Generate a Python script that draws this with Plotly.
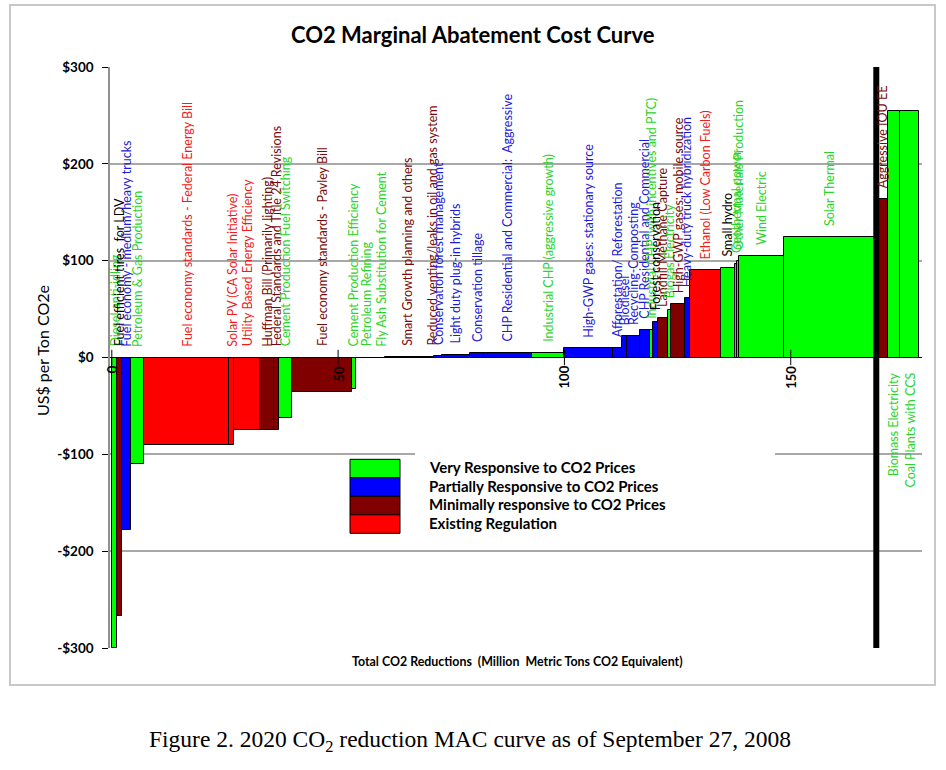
import numpy as np
import plotly.graph_objects as go

# ---------------- data ----------------
names = [
    "Diesel anti-idling", "Fuel efficient tires  for LDV", "Fuel economy - medium/heavy trucks",
    "Petroleum & Gas Production", "Fuel economy standards - Federal Energy Bill",
    "Solar PV (CA Solar Initiative)", "Utility Based Energy Efficiency",
    "Huffman Bill (Primarily lighting)", "Federal Standards and Title 24 Revisions",
    "Cement Production Fuel Switching", "Fuel economy standards - Pavley Bill",
    "Cement Production Efficiency", "Petroleum Refining", "Fly Ash Substitution for Cement",
    "Smart Growth planning and others", "Reduced venting/leaks in oil and gas system",
    "Conservation forest management", "Light duty plug-in hybrids", "Conservation tillage",
    "CHP Residential and Commercial:  Aggressive", "Industrial CHP (aggressive growth)",
    "High-GWP gases: stationary source", "Afforestation/ Reforestation", "Biodiesel",
    "Recycling-Composting", "CHP Residential and Commercial",
    "Industrial CHP (with incentives and PTC)", "Forest conservation",
    "Landfill Methane Capture", "Biogas Electricity", "High-GWP gases: mobile source",
    "Heavy-duty truck hybridization", "Ethanol (Low Carbon Fuels)", "Small hydro",
    "Geothermal power", "Other Materials Production", "Wind Electric", "Solar Thermal",
    "Aggressive IOU EE", "Biomass Electricity", "Coal Plants with CCS",
]
widths = [1.2, 1.0, 2.0, 2.9, 18.9, 1.0, 5.8, 3.1, 1.1, 2.9, 13.1, 1.0, 4.4, 2.0, 9.9,
          0.9, 1.7, 6.2, 3.1, 10.6, 7.0, 11.0, 1.85, 1.1, 2.9, 2.2, 0.75, 1.1, 2.2, 0.75,
          2.9, 1.2, 6.85, 3.0, 0.55, 0.5, 9.85, 20.4, 2.5, 2.7, 4.3]
values = [-300, -267, -178, -110, -90, -90, -75, -75, -75, -62, -36, -33, -1, -0.5, 0.3,
          1, 2, 3, 5, 5, 4.5, 9.5, 9.5, 22, 22, 28.5, 28.5, 37, 41, 49.5, 55, 61.5, 90,
          92.7, 97, 100, 104.5, 124, 164, 255, 255]
groups = ["V", "M", "P", "V", "E", "E", "E", "M", "M", "V", "M", "V", "V", "V", "M",
          "M", "P", "P", "P", "P", "V", "P", "P", "P", "P", "P", "V", "P", "M", "V",
          "M", "P", "E", "V", "V", "V", "V", "V", "M", "V", "V"]

legend_groups = ["V", "P", "M", "E"]
legend_labels = ["Very Responsive to CO2 Prices", "Partially Responsive to CO2 Prices",
                 "Minimally responsive to CO2 Prices", "Existing Regulation"]
y_ticks = [300, 200, 100, 0, -100, -200, -300]
y_tick_labels = ["$300", "$200", "$100", "$0", "-$100", "-$200", "-$300"]
x_ticks = [0, 50, 100, 150]
below_axis_labels = ["Biomass Electricity", "Coal Plants with CCS"]
black_labels = ["Fuel efficient tires  for LDV", "Forest conservation", "Small hydro"]
separator_after = "Solar Thermal"

# ---------------- styles ----------------
bar_colors = {"V": "#00ff00", "P": "#0000ff", "M": "#800000", "E": "#ff0000"}
label_colors = {"V": "#2ad42a", "P": "#1c1cd6", "M": "#7a0a0a", "E": "#f01c1c"}
FONT = "Lato"

w = np.array(widths, dtype=float)
v = np.array(values, dtype=float)
ends = np.cumsum(w)
starts = ends - w
centers = starts + w / 2

fig = go.Figure()
for g in legend_groups:
    idx = [i for i, gg in enumerate(groups) if gg == g]
    fig.add_trace(go.Bar(
        x=centers[idx], y=v[idx], width=w[idx],
        marker=dict(color=bar_colors[g], line=dict(color="black", width=1)),
        showlegend=False, hoverinfo="skip"))

# crossing tick marks on the x axis (at y = 0)
fig.add_trace(go.Scatter(
    x=x_ticks, y=[0] * len(x_ticks), mode="markers",
    marker=dict(symbol="line-ns", size=11, line=dict(color="black", width=1)),
    showlegend=False, hoverinfo="skip"))

annotations = []
for i, n in enumerate(names):
    col = "black" if n in black_labels else label_colors[groups[i]]
    if n in below_axis_labels:
        annotations.append(dict(x=centers[i], y=0, xref="x", yref="y", text=n,
                                textangle=-90, yanchor="top", xanchor="center",
                                yshift=-14, showarrow=False, borderpad=0,
                                font=dict(family=FONT, size=12.5, color=col)))
    else:
        annotations.append(dict(x=centers[i], y=max(v[i], 0), xref="x", yref="y", text=n,
                                textangle=-90, yanchor="bottom", xanchor="center",
                                yshift=10, showarrow=False, borderpad=0,
                                font=dict(family=FONT, size=12.5, color=col)))

for t in x_ticks:
    annotations.append(dict(x=t, y=0, xref="x", yref="y", text=str(t), textangle=-90,
                            yanchor="top", xanchor="center", yshift=-7, showarrow=False,
                            borderpad=0,
                            font=dict(family=FONT, size=13, color="black", weight="bold")))

# geometry helpers (paper coordinates)
L, R, T, B = 110, 24, 67, 122
PW, PH = 946 - L - R, 770 - T - B
px = lambda p: (p - L) / PW
py = lambda p: (770 - B - p) / PH

shapes = []
# outer chart border
shapes.append(dict(type="rect", xref="paper", yref="paper", x0=px(10), x1=px(935),
                   y0=py(685), y1=py(5), line=dict(color="#c8c8c8", width=2), layer="below"))
# white legend background (hides gridline)
shapes.append(dict(type="rect", xref="paper", yref="paper", x0=px(415), x1=px(775),
                   y0=py(541), y1=py(446), fillcolor="white", line=dict(width=0),
                   layer="above"))
# thick separator
sep_x = ends[names.index(separator_after)]
shapes.append(dict(type="line", xref="x", yref="paper", x0=sep_x, x1=sep_x, y0=0, y1=1,
                   line=dict(color="black", width=6), layer="above"))

# legend
sw_top, sw_h = 459.3, 18.5
for k, g in enumerate(legend_groups):
    y0 = sw_top + k * sw_h
    shapes.append(dict(type="rect", xref="paper", yref="paper", x0=px(350), x1=px(400),
                       y0=py(y0 + sw_h), y1=py(y0), fillcolor=bar_colors[g],
                       line=dict(color="black", width=1), layer="above"))
    annotations.append(dict(x=px(427), y=py(y0 + sw_h / 2 - 1.5), xref="paper", yref="paper",
                            text=legend_labels[k], xanchor="left", yanchor="middle",
                            showarrow=False,
                            font=dict(family=FONT, size=15, color="black", weight="bold")))

# titles
annotations.append(dict(x=px(473), y=py(35), xref="paper", yref="paper",
                        text="CO2 Marginal Abatement Cost Curve", showarrow=False,
                        xanchor="center", yanchor="middle",
                        font=dict(family=FONT, size=22, color="black", weight="bold")))
annotations.append(dict(x=px(42), y=py(351), xref="paper", yref="paper",
                        text="US$ per Ton CO2e", textangle=-90, showarrow=False,
                        xanchor="center", yanchor="middle",
                        font=dict(family=FONT, size=16, color="black")))
annotations.append(dict(x=px(517), y=py(661), xref="paper", yref="paper",
                        text="Total CO2 Reductions  (Million  Metric Tons CO2 Equivalent)",
                        showarrow=False, xanchor="center", yanchor="middle",
                        font=dict(family=FONT, size=12.4, color="black", weight="bold")))
annotations.append(dict(x=px(470), y=py(741), xref="paper", yref="paper",
                        text="Figure 2. 2020 CO<sub>2</sub> reduction MAC curve as of September 27, 2008",
                        showarrow=False, xanchor="center", yanchor="middle",
                        font=dict(family="Liberation Serif", size=23.5, color="black")))

fig.update_layout(
    width=946, height=770, autosize=False,
    margin=dict(l=L, r=R, t=T, b=B, pad=0),
    paper_bgcolor="white", plot_bgcolor="white",
    barmode="overlay", bargap=0,
    shapes=shapes, annotations=annotations,
    xaxis=dict(range=[-0.4, 179], showgrid=False, zeroline=False, showticklabels=False,
               showline=False, ticks=""),
    yaxis=dict(range=[-300, 300], tickvals=y_ticks, ticktext=y_tick_labels,
               showgrid=True, gridcolor="#a8a8a8", gridwidth=1.5,
               zeroline=True, zerolinecolor="black", zerolinewidth=1,
               showline=True, linecolor="#909090", linewidth=1.5,
               ticks="outside", ticklen=6, tickcolor="black", ticklabelstandoff=6,
               tickfont=dict(family=FONT, size=13.5, color="black", weight="bold")),
)

fig.write_html("out.html", config={"displayModeBar": False},
               post_script="document.body.style.margin='0';")
